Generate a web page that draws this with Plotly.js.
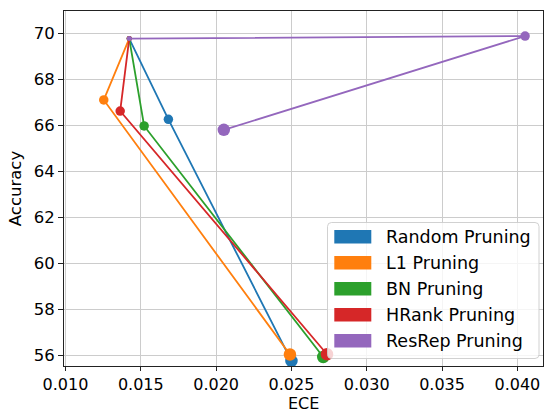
<!DOCTYPE html>
<html>
<head>
<meta charset="utf-8">
<script src="https://cdn.plot.ly/plotly-3.0.1.min.js"></script>
<style>
  html, body { margin: 0; padding: 0; background: #fff; }
  #chart { width: 546px; height: 413px; }
</style>
</head>
<body>
<div id="chart"></div>
<script>
// Pruning methods: each path goes from the dense model through two pruning stages
const methods = ["Random Pruning", "L1 Pruning", "BN Pruning", "HRank Pruning", "ResRep Pruning"];
const colors = ["#1f77b4", "#ff7f0e", "#2ca02c", "#d62728", "#9467bd"];

const eceRandom = [0.01423, 0.01683, 0.02500];
const accRandom = [69.77, 66.26, 55.75];
const eceL1 = [0.01423, 0.01254, 0.02490];
const accL1 = [69.77, 67.10, 56.03];
const eceBN = [0.01423, 0.01522, 0.02711];
const accBN = [69.77, 65.97, 55.92];
const eceHRank = [0.01423, 0.01363, 0.02736];
const accHRank = [69.77, 66.62, 56.04];
const eceResRep = [0.01423, 0.04051, 0.02051];
const accResRep = [69.77, 69.88, 65.80];

const xTicks = [0.010, 0.015, 0.020, 0.025, 0.030, 0.035, 0.040];
const yTicks = [56, 58, 60, 62, 64, 66, 68, 70];

const seriesX = [eceRandom, eceL1, eceBN, eceHRank, eceResRep];
const seriesY = [accRandom, accL1, accBN, accHRank, accResRep];

const FONT = "DejaVu Sans, sans-serif";
const FS = 16.5;
const XFS = 16;

const traces = methods.map((name, i) => ({
  type: "scatter",
  mode: "lines+markers",
  name: name,
  x: seriesX[i],
  y: seriesY[i],
  line: { color: colors[i], width: 1.8 },
  marker: { color: colors[i], size: [5, 9.5, 12.5], opacity: 1, line: { width: 0 } },
  showlegend: false,
  hoverinfo: "skip"
}));

// Plot area in pixels (for placing the legend box and the x title)
const W = 546, H = 413;
const M = { l: 64, r: 3, t: 11, b: 47 };
const PW = W - M.l - M.r, PH = H - M.t - M.b;
const px = x => (x - M.l) / PW;
const py = y => (M.t + PH - y) / PH;

const shapes = [];
const annotations = [];

// legend frame: rounded, translucent white
const bx0 = px(327.5), bx1 = px(539), by0 = py(358.5), by1 = py(222.5);
const rr = 4;
const rx = rr / PW, ry = rr / PH;
shapes.push({
  type: "path", xref: "paper", yref: "paper", layer: "above",
  path: `M ${bx0 + rx} ${by1} L ${bx1 - rx} ${by1} Q ${bx1} ${by1} ${bx1} ${by1 - ry} ` +
        `L ${bx1} ${by0 + ry} Q ${bx1} ${by0} ${bx1 - rx} ${by0} L ${bx0 + rx} ${by0} ` +
        `Q ${bx0} ${by0} ${bx0} ${by0 + ry} L ${bx0} ${by1 - ry} Q ${bx0} ${by1} ${bx0 + rx} ${by1} Z`,
  fillcolor: "rgba(255,255,255,0.8)",
  line: { color: "rgba(204,204,204,0.9)", width: 1 }
});

methods.forEach((name, i) => {
  const cy = 236.7 + i * 26;
  shapes.push({
    type: "rect", xref: "paper", yref: "paper", layer: "above",
    x0: px(334.3), x1: px(371.3), y0: py(cy + 6.7), y1: py(cy - 6.7),
    fillcolor: colors[i], line: { width: 0 }
  });
  annotations.push({
    xref: "paper", yref: "paper", x: px(384), y: py(cy),
    xanchor: "left", yanchor: "middle", showarrow: false,
    text: name, font: { family: FONT, size: 17.5, color: "#000" }
  });
});

// x axis title
annotations.push({
  xref: "paper", yref: "paper", x: 0.5, y: py(403.5),
  xanchor: "center", yanchor: "middle", showarrow: false, borderpad: 0,
  text: "ECE", font: { family: FONT, size: XFS, color: "#000" }
});

const axisCommon = {
  showline: true, linecolor: "#222", linewidth: 1, mirror: true,
  ticks: "outside", ticklen: 5, tickwidth: 1, tickcolor: "#222",
  showgrid: true, gridcolor: "#cccccc", gridwidth: 1,
  zeroline: false
};

const layout = {
  width: W, height: H,
  margin: M,
  paper_bgcolor: "#fff", plot_bgcolor: "#fff",
  showlegend: false,
  xaxis: Object.assign({}, axisCommon, {
    range: [0.0099, 0.0417],
    tickvals: xTicks,
    ticktext: xTicks.map(v => v.toFixed(3)),
    ticklen: 4,
    tickfont: { family: FONT, size: XFS, color: "#000" }
  }),
  yaxis: Object.assign({}, axisCommon, {
    range: [55.53, 70.97],
    tickvals: yTicks,
    ticktext: yTicks.map(String),
    tickfont: { family: FONT, size: FS, color: "#000" },
    title: { text: "Accuracy", font: { family: FONT, size: FS, color: "#000" } }
  }),
  shapes: shapes,
  annotations: annotations
};

Plotly.newPlot("chart", traces, layout, { staticPlot: true, displayModeBar: false });
</script>
</body>
</html>
